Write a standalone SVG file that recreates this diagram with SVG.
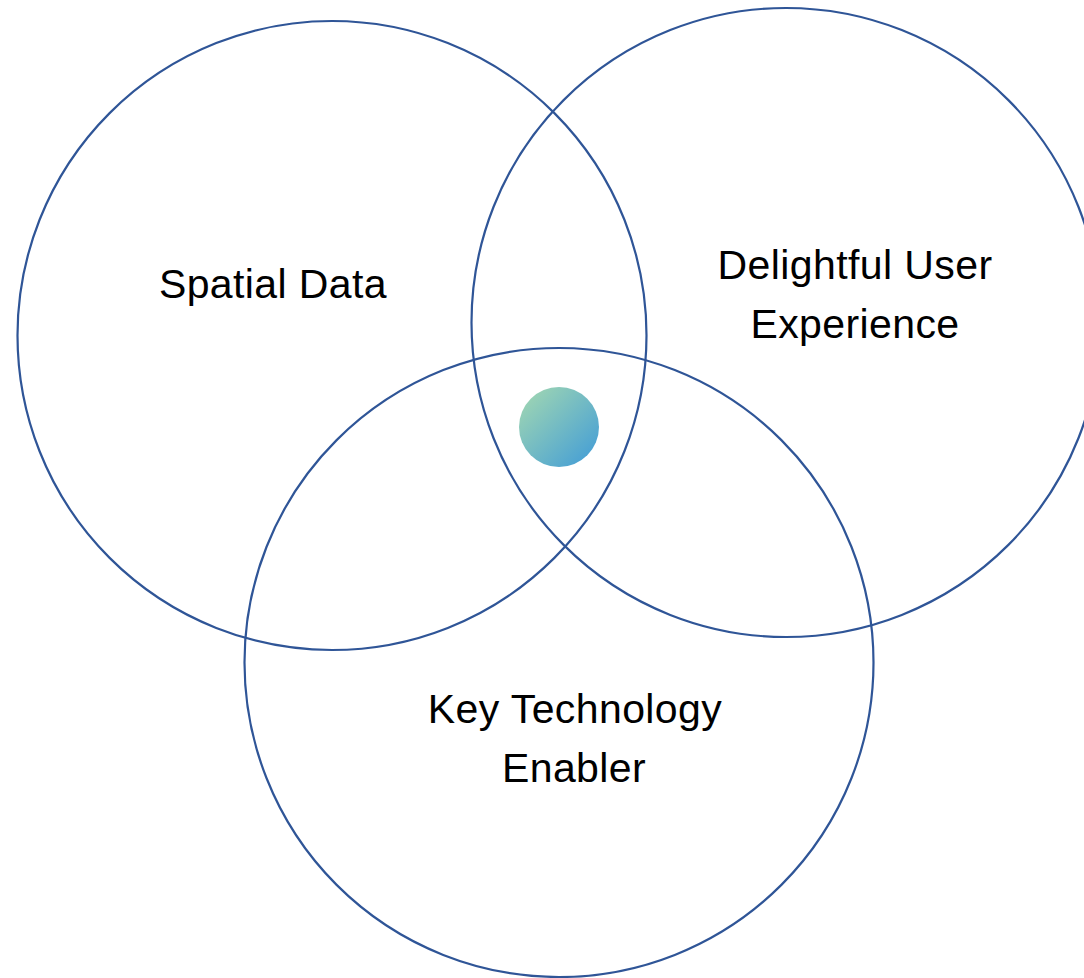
<svg xmlns="http://www.w3.org/2000/svg" width="1084" height="978" viewBox="0 0 1084 978">
  <style>
    .ring { fill: none; stroke: #2F5597; stroke-width: 2.2; }
    .label { font-family: "Liberation Sans", Arial, sans-serif; font-size: 41px; letter-spacing: 0.4px; fill: #000; text-anchor: middle; }
  </style>
  <defs>
    <linearGradient id="coreFill" x1="0" y1="0" x2="1" y2="1">
      <stop offset="0" stop-color="#A6DAB0"/>
      <stop offset="1" stop-color="#3E9AD8"/>
    </linearGradient>
  </defs>
  <rect width="1084" height="978" fill="#FFFFFF"/>

  <g id="spatial-data">
    <circle class="ring" cx="332" cy="335.5" r="314.5"/>
    <text class="label" x="273" y="298">Spatial Data</text>
  </g>

  <g id="user-experience">
    <circle class="ring" cx="786" cy="322.5" r="314.5"/>
    <text class="label" x="855" y="279">Delightful User</text>
    <text class="label" x="855" y="338">Experience</text>
  </g>

  <g id="technology-enabler">
    <circle class="ring" cx="559" cy="662.5" r="314.5"/>
    <text class="label" x="575" y="723">Key Technology</text>
    <text class="label" x="574" y="782">Enabler</text>
  </g>

  <g id="core">
    <circle cx="559" cy="427" r="40" fill="url(#coreFill)"/>
  </g>

  <g id="connectors"/>
</svg>
